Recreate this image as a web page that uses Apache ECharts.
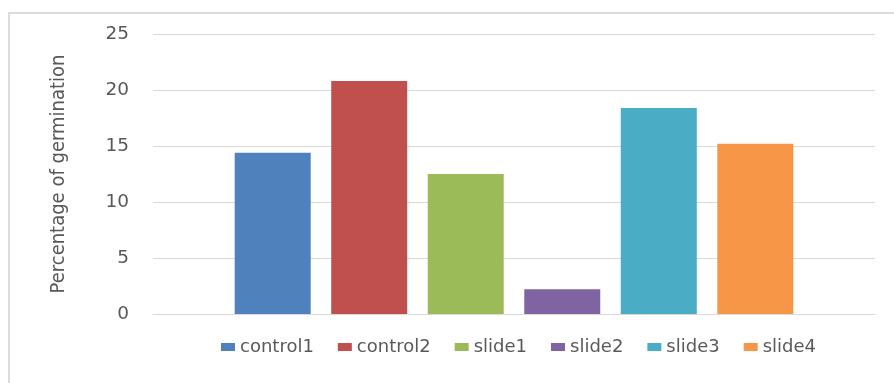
<!DOCTYPE html>
<html>
<head>
<meta charset="utf-8">
<script src="https://cdn.jsdelivr.net/npm/echarts@6/dist/echarts.min.js"></script>
<style>
    html, body { margin: 0; padding: 0; background: #fff; overflow: hidden; }
    #frame {
        position: absolute; left: 8px; top: 12px;
        width: 900px; height: 400px;
        border: 2px solid #dcdcdc;
    }
    #main { position: absolute; left: 0; top: 0; width: 894px; height: 383px; }
</style>
</head>
<body>
<div id="frame"></div>
<div id="main"></div>
<script>
// 数据
var category = [''];
var seriesNames = ['control1', 'control2', 'slide1', 'slide2', 'slide3', 'slide4'];
var seriesValues = [14.4, 20.8, 12.5, 2.2, 18.4, 15.2];
var seriesColors = ['#4F81BD', '#C0504D', '#9BBB59', '#8064A2', '#4BACC6', '#F79646'];
var yTicks = [0, 5, 10, 15, 20, 25];

var chart = echarts.init(document.getElementById('main'));

var series = [];
for (var i = 0; i < seriesNames.length; i++) {
    series.push({
        name: seriesNames[i],
        type: 'bar',
        data: [seriesValues[i]],
        barWidth: 76,
        barGap: '27%',
        itemStyle: { color: seriesColors[i] }
    });
}

var option = {
    animation: false,
    grid: {
        left: 153,
        right: 19,
        top: 34,
        bottom: 69
    },
    legend: {
        bottom: 22,
        left: 216,
        itemWidth: 14,
        itemHeight: 8,
        itemGap: 24,
        itemTextGap: 6,
        icon: 'rect',
        textStyle: {
            color: '#595959',
            fontSize: 18,
            fontFamily: 'DejaVu Sans, sans-serif'
        },
        data: seriesNames
    },
    xAxis: {
        type: 'category',
        data: category,
        axisLine: { show: true, lineStyle: { color: '#d9d9d9', width: 1 } },
        axisTick: { show: false },
        axisLabel: { show: false }
    },
    yAxis: {
        type: 'value',
        min: yTicks[0],
        max: yTicks[yTicks.length - 1],
        interval: 5,
        name: 'Percentage of germination',
        nameLocation: 'middle',
        nameGap: 84,
        nameTextStyle: {
            color: '#595959',
            fontSize: 20,
            fontFamily: 'DejaVu Sans Condensed, Liberation Sans Narrow, sans-serif'
        },
        axisLine: { show: false },
        axisTick: { show: false },
        axisLabel: {
            color: '#595959',
            fontSize: 18.5,
            margin: 24,
            fontFamily: 'DejaVu Sans, sans-serif'
        },
        splitLine: { lineStyle: { color: '#d9d9d9', width: 1 } }
    },
    series: series
};

chart.setOption(option);
</script>
</body>
</html>
